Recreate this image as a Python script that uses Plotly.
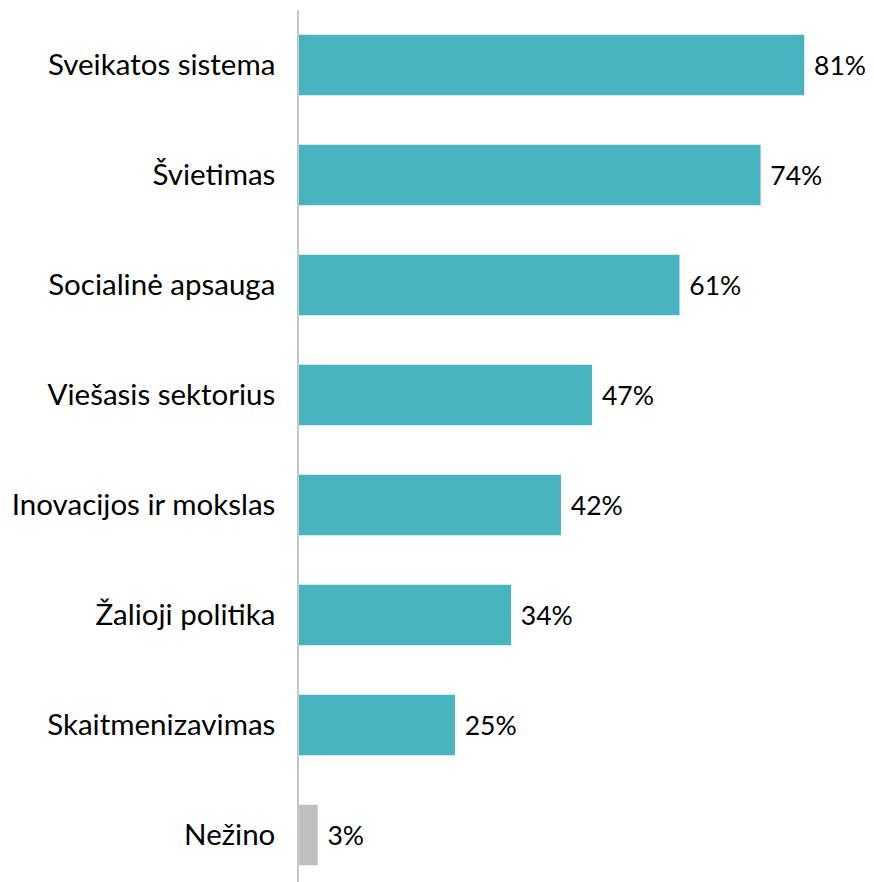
import plotly.graph_objects as go

categories = [
    "Sveikatos sistema",
    "Švietimas",
    "Socialinė apsauga",
    "Viešasis sektorius",
    "Inovacijos ir mokslas",
    "Žalioji politika",
    "Skaitmenizavimas",
    "Nežino",
]
values = [81, 74, 61, 47, 42, 34, 25, 3]
bar_colors = ["#47B4BF"] * 7 + ["#BFBFBF"]
value_labels = [f"{v}%" for v in values]

FONT = "Lato, Calibri, Carlito, sans-serif"

fig = go.Figure(
    go.Bar(
        x=values,
        y=categories,
        orientation="h",
        marker=dict(color=bar_colors, line=dict(width=0)),
        text=value_labels,
        texttemplate=" %{text}",  # small extra gap after the bar end
        textposition="outside",
        constraintext="none",
        textfont=dict(family=FONT, size=26.5, color="#000000"),
        cliponaxis=False,
    )
)

# page body has an 8px margin; keep the figure inside the visible width
fig.update_layout(
    width=858,
    height=874,
    plot_bgcolor="white",
    paper_bgcolor="white",
    margin=dict(l=291, r=0, t=2, b=0, autoexpand=False),
    bargap=0.45,
    showlegend=False,
    font=dict(family=FONT, size=29, color="#000000"),
)
fig.update_xaxes(
    range=[0, 90.9],
    showgrid=False,
    zeroline=False,
    showticklabels=False,
    showline=False,
)
fig.update_yaxes(
    categoryorder="array",
    categoryarray=categories,
    range=[7.427, -0.5],
    showgrid=False,
    showline=True,
    linecolor="#C8C8C8",
    linewidth=1.5,
    ticks="",
    ticklabelstandoff=16,
    tickfont=dict(family=FONT, size=29.5, color="#000000"),
)

fig.write_html("out.html")
